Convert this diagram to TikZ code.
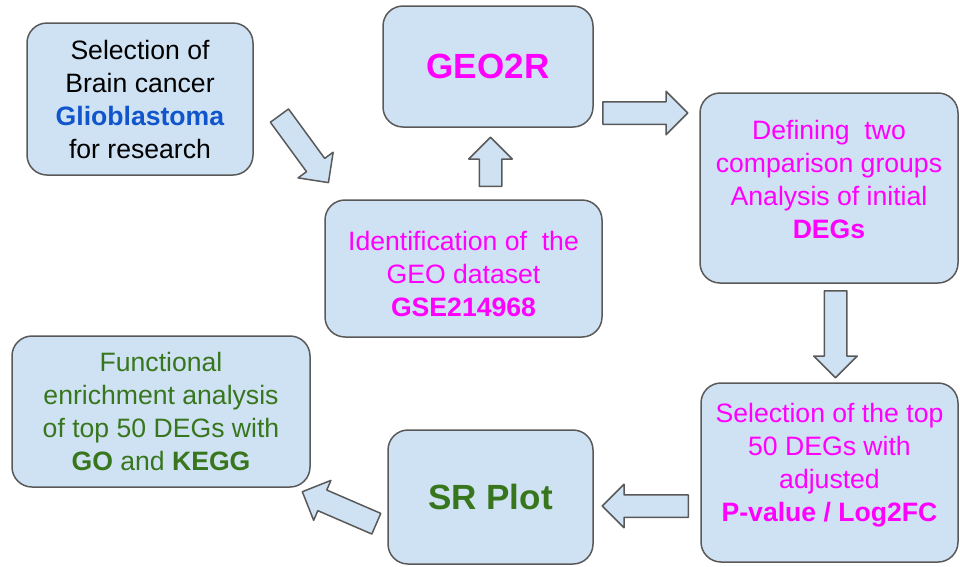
\documentclass[tikz,border=0pt]{standalone}
\usepackage{fontspec}
\setmainfont{Liberation Sans}
\usetikzlibrary{calc,shapes.arrows}
\definecolor{boxblue}{RGB}{207,226,243}
\definecolor{edgegray}{RGB}{89,89,89}
\definecolor{geomagenta}{RGB}{255,0,255}
\definecolor{plotgreen}{RGB}{56,118,29}
\definecolor{gbmblue}{RGB}{17,85,204}
\tikzset{
 stage/.style={
 rectangle,
 rounded corners=20pt,
 draw=edgegray,
 fill=boxblue,
 line width=1.5pt,
 align=center,
 inner sep=0pt,
 font=\fontsize{26.6}{33}\selectfont
 },
 bigstage/.style={
 stage,
 font=\fontsize{35}{40}\selectfont\bfseries
 },
 blockarrow/.style={
 single arrow,
 draw=edgegray,
 fill=boxblue,
 line width=1.5pt,
 inner xsep=0pt,
 inner ysep=10.5pt,
 minimum width=0pt,
 single arrow head extend=10.5pt,
 single arrow tip angle=90,
 line join=round
 }
}
\newcommand{\fatarrow}[2]{%
 \path let \p1=($(#2)-(#1)$), \n1={atan2(\y1,\x1)}, \n2={veclen(\x1,\y1)} in
 node[blockarrow, anchor=tail, rotate=\n1, minimum height=\n2] at (#1) {};}
\newcommand{\lowstrut}[1]{\rule[-#1]{0pt}{0pt}}

\begin{document}
\begin{tikzpicture}[x=1pt, y=-1pt]
 \useasboundingbox (0,0) rectangle (960,566);
 \node[stage, minimum width=226pt, minimum height=152pt] (choose) at (140,99)
 {Selection of\\Brain cancer\\\textcolor{gbmblue}{\textbf{Glioblastoma}}\\for research};
 \node[bigstage, text=geomagenta, minimum width=210pt, minimum height=121pt] (geo) at (488,66.5) {GEO2R};
 \node[stage, text=geomagenta, minimum width=258pt, minimum height=190pt] (groups) at (829,188)
 {Defining\ \ two\\comparison groups\\Analysis of initial\\\textbf{DEGs}\lowstrut{17.5pt}};
 \node[stage, text=geomagenta, minimum width=277pt, minimum height=137pt] (dataset) at (463.5,268.5)
 {\rule{0pt}{31pt}Identification of\ \ the\\GEO dataset\\\textbf{GSE214968}};
 \node[stage, text=geomagenta, minimum width=257pt, minimum height=179pt] (top) at (829.5,472.5)
 {Selection of the top\\50 DEGs with\\adjusted\\\textbf{P-value / Log2FC}\lowstrut{19.5pt}};
 \node[bigstage, text=plotgreen, minimum width=205pt, minimum height=134pt] (srplot) at (490.5,497) {SR Plot};
 \node[stage, text=plotgreen, minimum width=298pt, minimum height=151pt] (enrich) at (161,411.5)
 {Functional\\enrichment analysis\\of top 50 DEGs with\\\textbf{GO} and \textbf{KEGG}};
 \coordinate (choose-out) at (279,115);
 \coordinate (dataset-in) at (328,182);
 \coordinate (dataset-out) at (490.5,187);
 \coordinate (geo-in) at (490.5,138);
 \coordinate (geo-out) at (602,113);
 \coordinate (groups-in) at (687,113);
 \coordinate (groups-out) at (835.5,290);
 \coordinate (top-in) at (835.5,377);
 \coordinate (top-out) at (689,506);
 \coordinate (srplot-in) at (603,506);
 \coordinate (srplot-out) at (377,524);
 \coordinate (enrich-in) at (303,492);
 \fatarrow{choose-out}{dataset-in}
 \fatarrow{dataset-out}{geo-in}
 \fatarrow{geo-out}{groups-in}
 \fatarrow{groups-out}{top-in}
 \fatarrow{top-out}{srplot-in}
 \fatarrow{srplot-out}{enrich-in}
\end{tikzpicture}
\end{document}
